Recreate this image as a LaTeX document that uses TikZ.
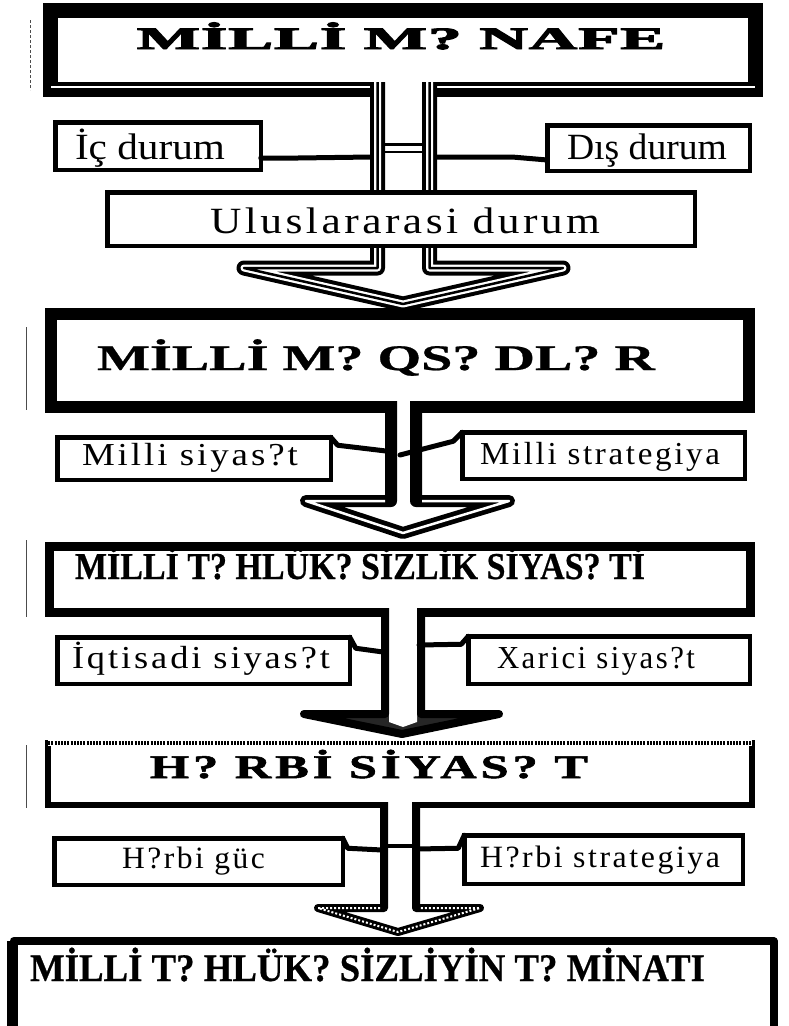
\documentclass[tikz,border=0pt]{standalone}
\usepackage{fontspec}
\setmainfont{Liberation Serif}
\newfontfamily\spaced[LetterSpace=8]{Liberation Serif}
\newfontfamily\heavy[LetterSpace=8,FakeBold=1.5]{Liberation Serif Bold}
\newfontfamily\wideheavy[LetterSpace=2,FakeBold=3]{Liberation Serif Bold}
\newfontfamily\semiheavy[FakeBold=0.6]{Liberation Serif Bold}
\newdimen\tw
\newcommand\fitt[4]{\settowidth\tw{#1\fontsize{#2}{#2}\selectfont #4}\scalebox{\fpeval{#3/\tw}}[1]{#1\fontsize{#2}{#2}\selectfont #4}}
\begin{document}
\begin{tikzpicture}[x=1pt,y=-1pt,
  sbox/.style={draw, line width=4.5pt, fill=white, inner sep=0pt, outer sep=0pt},
  bbox/.style={draw, fill=white, inner sep=0pt, outer sep=0pt},
  conn/.style={line width=5pt, line join=round, line cap=round},
  txt/.style={anchor=base west, inner sep=0pt, outer sep=0pt},
  wall/.style={line join=round}]
\useasboundingbox (0,0) rectangle (789,1026);

% ---------- big boxes ----------
\node[bbox, line width=15pt, minimum width=705pt, minimum height=79pt] (b1) at (403,50) {};
\draw[white, line width=1.5pt] (51,87) -- (755,87);
\node[bbox, line width=12pt, minimum width=698pt, minimum height=93pt] (b2) at (400,360.5) {};
\node[bbox, line width=9pt, minimum width=701pt, minimum height=66pt] (b3) at (400,579.5) {};
\node[bbox, line width=6pt, minimum width=704pt, minimum height=62pt] (b4) at (400,774) {};
\draw[white, line width=6.5pt] (b4.north west) -- (b4.north east);
\draw[line width=4pt, dash pattern=on 2pt off 1.2pt] ([xshift=-3pt]b4.north west) -- ([xshift=3pt]b4.north east);
\node[bbox, draw=none, minimum width=760pt, minimum height=100pt, anchor=north west] (b5) at (13.5,941) {};
\draw[line width=8pt, line join=round] (b5.south west) -- (b5.north west) -- (b5.north east) -- (b5.south east);
\draw[line width=5pt] ([xshift=-4pt]b5.south west) -- ([xshift=-4pt]b5.north west);

% ---------- block arrows ----------
\def\AonePath{(377.5,82) -- (377.5,268) -- (244,268) -- (403,304) -- (563,268) -- (429.5,268) -- (429.5,82)}
\fill[white] \AonePath -- cycle;
\draw[line width=15pt, wall] \AonePath;
\draw[white, line width=7pt, wall] \AonePath;
\draw[line width=2.5pt, wall] \AonePath;

\def\ATwoPath{(391,401) -- (391,501) -- (306,501) -- (403,533) -- (509,501) -- (416,501) -- (416,401)}
\fill[white] \ATwoPath -- cycle;
\draw[line width=12pt, wall] \ATwoPath;
\draw[white, line width=2.5pt, wall] (385,501) -- (306,501) -- (403,533) -- (509,501) -- (422,501);

\def\AThreePath{(385,608) -- (385,714) -- (304,714) -- (402,734) -- (499,714) -- (421,714) -- (421,608)}
\fill[white] \AThreePath -- cycle;
\fill[black!85] (304,714) -- (402,734) -- (499,714) -- cycle;
\fill[white] (389,714) -- (389,722) -- (403,727) -- (417,722) -- (417,714) -- cycle;
\draw[line width=8pt, wall] \AThreePath;

\def\AFourPath{(384,802) -- (384,908) -- (318,908) -- (398,932) -- (480,908) -- (416,908) -- (416,802)}
\fill[white] \AFourPath -- cycle;
\draw[line width=8pt, wall] \AFourPath;
\draw[white, line width=2pt, dash pattern=on 2pt off 2pt, wall] (380,908) -- (318,908) -- (398,932) -- (480,908) -- (420,908);

% ---------- wall coordinates ----------
\coordinate (w1l) at (371,157);
\coordinate (w1r) at (437,157);
\coordinate (w2l) at (386,451);
\coordinate (w2r) at (400,455);
\coordinate (w3l) at (383,652);
\coordinate (w3r) at (419,645);
\coordinate (w4l) at (382,850);
\coordinate (w4r) at (416,849);

% ---------- small boxes ----------
\node[sbox, minimum width=205.5pt, minimum height=47.5pt] (ic) at (158,146) {};
\node[sbox, minimum width=202.5pt, minimum height=45.5pt] (dis) at (648.5,148) {};
\node[sbox, minimum width=587.5pt, minimum height=53.5pt] (ulus) at (401,219) {};
\node[sbox, minimum width=273.5pt, minimum height=42.5pt] (msiy) at (194,458.5) {};
\node[sbox, minimum width=282.5pt, minimum height=46.5pt] (mstr) at (603.5,455.5) {};
\node[sbox, minimum width=292.5pt, minimum height=46.5pt] (iqt) at (203.5,660.5) {};
\node[sbox, minimum width=281.5pt, minimum height=47.5pt] (xar) at (609,660) {};
\node[sbox, minimum width=288.5pt, minimum height=46.5pt] (hguc) at (198.5,861.5) {};
\node[sbox, minimum width=278.5pt, minimum height=48.5pt] (hstr) at (603.5,859.5) {};

% ---------- connectors ----------
\draw[conn] ([yshift=-12pt]ic.east) -- ++(37,0) -- (w1l);
\draw[conn] (w1r) -- (512,157) -- ([yshift=-12pt]dis.west);
\draw[line width=3pt] (385,144) -- (422,144);
\draw[line width=1.5pt] (385,152) -- (422,152);
\draw[conn] (msiy.north east) -- ++(7,8) -- (w2l);
\draw[conn] (mstr.north west) -- ++(-9,9) -- (w2r);
\draw[conn] (iqt.north east) -- ++(6,11) -- (w3l);
\draw[conn] (xar.north west) -- ++(-7,8) -- (w3r);
\draw[conn] (hguc.north east) -- ++(5,10) -- (w4l);
\draw[conn] (hstr.north west) -- ++(-6,13) -- (w4r);
\draw[line width=4pt] (384,846) -- (416,846);

% redraw box borders over connector ends
\foreach \b in {ic,dis,msiy,mstr,iqt,xar,hguc,hstr}{
  \draw[line width=4.5pt] (\b.north west) rectangle (\b.south east);
}

% ---------- texts ----------
\node[txt] (t1) at (137,49) {\fitt{\wideheavy}{31}{528}{MİLLİ M? NAFE}};
\node[txt] (t2) at (75,159) {\fitt{\rmfamily}{37}{150}{İç durum}};
\node[txt] (t3) at (567,159) {\fitt{\rmfamily}{37}{160}{Dış durum}};
\node[txt] (t4) at (210,233) {\fitt{\spaced}{37}{390}{Uluslararasi durum}};
\node[txt] (t5) at (97,370) {\fitt{\semiheavy}{36}{558}{MİLLİ M? QS? DL? R}};
\node[txt] (t6) at (82,465) {\fitt{\spaced}{32}{216}{Milli siyas?t}};
\node[txt] (t7) at (480,464) {\fitt{\spaced}{32}{240}{Milli strategiya}};
\node[txt] (t8) at (75,579) {\fitt{\semiheavy}{38}{570}{MİLLİ T? HLÜK? SİZLİK SİYAS? Tİ}};
\node[txt] (t9) at (72,668) {\fitt{\spaced}{32}{258}{İqtisadi siyas?t}};
\node[txt] (t10) at (497,668) {\fitt{\spaced}{32}{198}{Xarici siyas?t}};
\node[txt] (t11) at (150,778) {\fitt{\heavy}{33}{438}{H? RBİ SİYAS? T}};
\node[txt] (t12) at (122,868) {\fitt{\spaced}{31}{143}{H?rbi güc}};
\node[txt] (t13) at (480,867) {\fitt{\spaced}{31}{240}{H?rbi strategiya}};
\node[txt] (t14) at (30,981) {\fitt{\semiheavy}{39}{675}{MİLLİ T? HLÜK? SİZLİYİN T? MİNATI}};

% ---------- margin marks ----------
\draw[black!70, line width=1pt, dash pattern=on 3pt off 2pt] (30,20) -- (30,90);
\draw[black!70, line width=1pt] (26,327) -- (26,410);
\draw[black!70, line width=1pt] (26,540) -- (26,617);
\draw[black!70, line width=1pt] (26,745) -- (26,808);
\end{tikzpicture}
\end{document}
